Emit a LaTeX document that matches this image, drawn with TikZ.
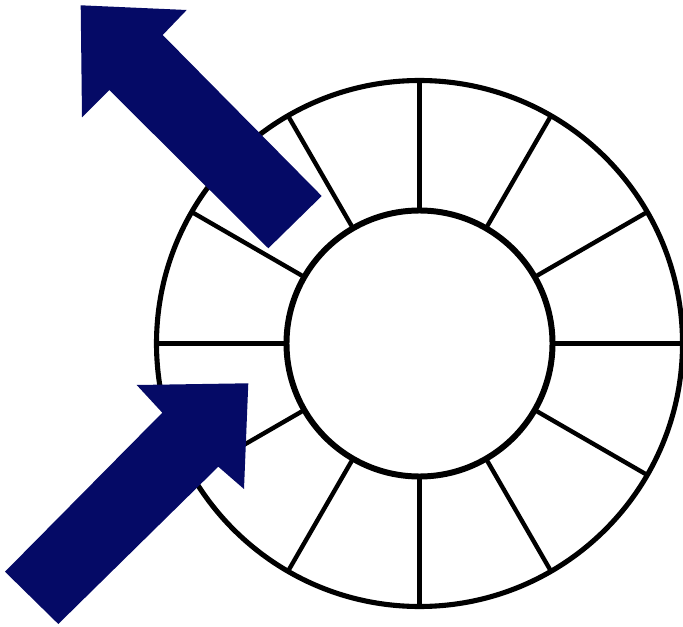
\documentclass[tikz,border=0pt]{standalone}
\usepackage{tikz}
\usetikzlibrary{calc}
\definecolor{arrowblue}{RGB}{5,10,102}

\begin{document}
\begin{tikzpicture}[x=0.02cm, y=0.02cm,
    ring/.style={draw=black, line width=2.9pt},
    hub/.style={draw=black, line width=3.4pt},
    spoke/.style={draw=black, line width=2.5pt},
    bigarrow/.style={fill=arrowblue}]
    \def\ro{263}
    \def\ri{133}
    \useasboundingbox (0,0) rectangle (683,626);
    \coordinate (C) at (419.5,282.5);
    % ring slots
    \foreach \a in {0,30,...,330}
      \draw[spoke] ($(C)+(\a:\ri)$) -- ($(C)+(\a:\ro)$);
    \draw[ring] (C) circle[radius=\ro];
    \draw[hub, fill=white] (C) circle[radius=\ri];
    % outgoing arrow (upper left)
    \fill[bigarrow] (321.7,430) -- (162.7,591) -- (186.7,616) -- (80.7,620.7)
      -- (82,508.7) -- (109.3,536) -- (268.3,377.7) -- cycle;
    % incoming arrow (lower left)
    \fill[bigarrow] (5,54.3) -- (162.3,213.3) -- (136.7,241) -- (248.3,242.7)
      -- (244,137) -- (218.3,159.3) -- (58.3,2) -- cycle;
\end{tikzpicture}
\end{document}
